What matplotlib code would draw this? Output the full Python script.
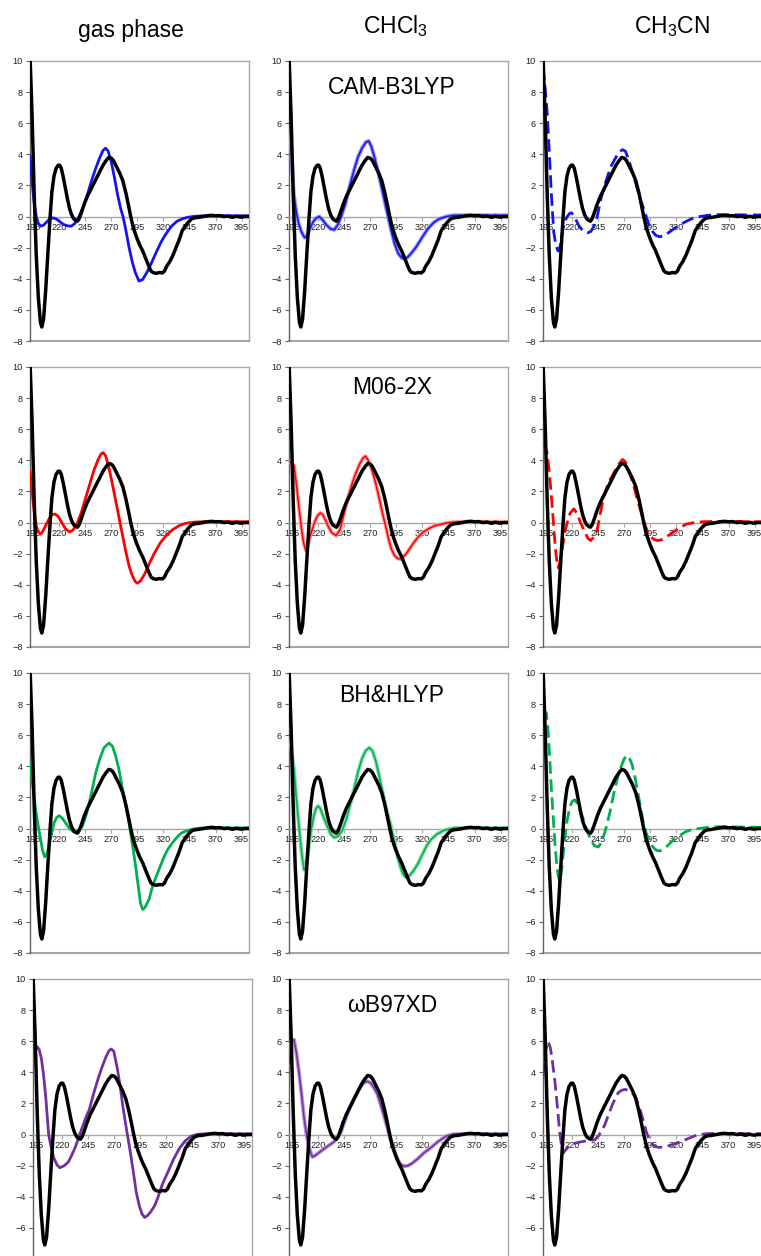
import matplotlib.pyplot as plt
import numpy as np

plt.rcParams['font.family'] = ['Liberation Sans', 'DejaVu Sans']
plt.rcParams['mathtext.fontset'] = 'custom'
plt.rcParams['mathtext.rm'] = 'Liberation Sans'
plt.rcParams['mathtext.default'] = 'rm'

# wavelength (nm), CD signal
experiment = [(192, 10.4), (194, 6.5), (196, 1.5), (198, -2.5), (200, -5.2), (202, -6.8),
              (203.3, -7.1), (205, -6.6), (207, -4.8), (209, -2.5), (211.3, 0), (213, 1.6),
              (215, 2.6), (217, 3.1), (219, 3.3), (220.5, 3.3), (222, 3.1), (224, 2.5),
              (226, 1.8), (228, 1.1), (230, 0.5), (232, 0.1), (234, -0.15), (236, -0.25),
              (237.5, -0.3), (239, -0.15), (241, 0.2), (244, 0.8), (247, 1.3), (250, 1.7),
              (253, 2.1), (256, 2.5), (259, 2.9), (262, 3.3), (265, 3.6), (267.5, 3.8),
              (270, 3.75), (272, 3.6), (275, 3.2), (278, 2.8), (281, 2.3), (284, 1.5),
              (286.5, 0.7), (288.6, 0), (291, -0.7), (294, -1.3), (297, -1.8), (300, -2.2),
              (303, -2.7), (306, -3.2), (308, -3.5), (310, -3.6), (313, -3.65), (316, -3.6),
              (319, -3.62), (321, -3.5), (323, -3.2), (326, -2.9), (329, -2.5), (332, -2.0),
              (335, -1.5), (338, -0.9), (341, -0.6), (344, -0.35), (347, -0.15), (350, -0.08),
              (354, -0.05), (358, 0.0), (362, 0.05), (366, 0.08), (370, 0.05), (374, 0.06),
              (378, 0.0), (382, 0.03), (386, -0.05), (390, 0.02), (394, -0.04), (398, 0.0),
              (402, 0.0)]

cam_gas = [(192, 3.9), (194, 2.2), (196, 0.9), (198, 0.0), (200, -0.45), (202.5, -0.62),
           (205, -0.55), (208, -0.35), (211, -0.15), (214, -0.08), (217, -0.15), (220, -0.3),
           (224, -0.5), (228, -0.6), (231.5, -0.62), (235, -0.45), (239, 0.0), (243, 0.6),
           (247, 1.4), (251, 2.3), (255, 3.1), (259, 3.8), (262, 4.25), (264.5, 4.4),
           (267, 4.2), (270, 3.5), (273, 2.5), (276, 1.4), (279, 0.5), (281.2, 0),
           (284, -0.9), (287, -2.0), (290, -2.9), (293, -3.6), (296.5, -4.15), (300, -4.05),
           (304, -3.6), (308, -3.05), (313, -2.3), (318, -1.6), (323, -1.05), (328, -0.6),
           (333, -0.3), (338, -0.15), (343, -0.05), (350, 0.02), (360, 0.05), (402, 0.05)]
cam_chcl3 = [(192, 7.1), (194, 4.5), (196.5, 1.5), (199, 0.3), (201, -0.4), (204, -1.0),
             (207, -1.35), (209, -1.3), (212, -0.8), (215, -0.35), (218, -0.1), (221, 0.0),
             (224, -0.2), (228, -0.55), (232, -0.8), (235.5, -0.85), (239, -0.5), (242, 0.0),
             (246, 0.8), (250, 1.9), (254, 2.9), (258, 3.8), (262, 4.4), (266, 4.8),
             (268.5, 4.85), (271, 4.5), (274, 3.8), (277, 3.0), (280, 2.1), (283, 1.2),
             (287, 0.0), (290, -0.9), (293.5, -1.8), (297, -2.4), (300, -2.65), (303, -2.72),
             (306, -2.6), (310, -2.3), (314.5, -1.9), (320, -1.3), (325, -0.8), (330.5, -0.4),
             (336, -0.15), (343, 0.0), (350, 0.08), (402, 0.08)]
cam_ch3cn = [(192, 9.6), (194, 8.3), (196, 6.7), (198, 4.2), (200, 1.5), (202.3, -1.0),
             (204.5, -1.9), (206.5, -2.22), (208.5, -1.9), (210.4, -1.05), (213, -0.3),
             (215.2, 0), (217.5, 0.2), (219.4, 0.24), (222, 0.0), (226.5, -0.6), (230, -0.9),
             (234.5, -1.05), (238, -0.95), (241, -0.6), (244, 0.0), (247.4, 1.1), (251, 2.0),
             (254, 2.6), (257, 3.2), (261, 3.7), (265, 4.15), (268.3, 4.3), (271, 4.2),
             (274, 3.7), (278, 2.8), (282, 1.9), (285, 1.2), (287.7, 0.66), (291, 0.0),
             (294, -0.6), (297, -0.95), (300, -1.2), (303.8, -1.3), (307, -1.25), (311, -1.1),
             (316.6, -0.83), (323, -0.55), (329.5, -0.3), (336, -0.1), (342.4, 0.0),
             (350, 0.08), (360, 0.12), (402, 0.1)]

m06_gas = [(192, 3.3), (194, 2.0), (196, 0.7), (198, -0.2), (200, -0.6), (202, -0.75),
           (204, -0.6), (207, -0.2), (210, 0.2), (213, 0.5), (216, 0.55), (219, 0.4),
           (222, 0.05), (226, -0.4), (230, -0.6), (233, -0.5), (237, -0.1), (241, 0.6),
           (245, 1.5), (249, 2.4), (253, 3.3), (257, 4.0), (260, 4.4), (262, 4.5),
           (264.5, 4.3), (267, 3.7), (270, 2.8), (273, 1.8), (276, 0.8), (278.3, 0),
           (281, -0.9), (284, -1.9), (287, -2.8), (290, -3.4), (293, -3.8), (295, -3.9),
           (298, -3.75), (302, -3.3), (306, -2.7), (311, -2.0), (317, -1.3), (323, -0.8),
           (329, -0.45), (335, -0.2), (341, -0.05), (350, 0.03), (360, 0.06), (402, 0.05)]
m06_chcl3 = [(192, 3.9), (194, 3.85), (196.8, 3.67), (199, 2.5), (201.7, 0.88), (204, -0.4),
             (206, -1.3), (208.1, -1.8), (210, -1.5), (212, -0.95), (214.5, -0.4), (217, 0.1),
             (219.5, 0.45), (222, 0.62), (224.5, 0.5), (227, 0.15), (230, -0.3), (233, -0.65),
             (237.1, -0.84), (241, -0.45), (245.1, 0.67), (249, 1.7), (253, 2.6),
             (256.4, 3.24), (260, 3.8), (263, 4.15), (265.4, 4.27), (268, 4.0), (271, 3.5),
             (274.1, 2.8), (277, 2.0), (280, 1.1), (282.2, 0.45), (285, -0.3), (288, -1.2),
             (290.2, -1.7), (293, -2.1), (296, -2.3), (298.3, -2.34), (301, -2.25),
             (305, -1.95), (309.6, -1.48), (315, -1.0), (320, -0.65), (325.7, -0.4),
             (332, -0.2), (338.5, -0.1), (345, 0.0), (355, 0.05), (402, 0.05)]
m06_ch3cn = [(192, 5.17), (194, 4.9), (195.9, 4.5), (198, 3.3), (200, 1.74), (202, 0.0),
             (203.9, -1.7), (205.5, -2.6), (206.5, -2.9), (208, -2.6), (210.4, -1.7),
             (213, -0.6), (215.2, 0), (218, 0.6), (221.6, 0.88), (224.5, 0.6), (228, 0.0),
             (232, -0.6), (235, -1.0), (237.7, -1.16), (241, -0.9), (244.2, -0.4), (247, 0.6),
             (250.6, 1.74), (255, 2.6), (260.3, 3.24), (264, 3.7), (268.3, 4.06), (271, 3.9),
             (274, 3.4), (278, 2.6), (282, 1.6), (286, 0.67), (289, 0.0), (292.4, -0.62),
             (296, -0.95), (299, -1.1), (302, -1.16), (306, -1.1), (311, -0.9),
             (316.6, -0.62), (323, -0.33), (329.5, -0.1), (337, 0.0), (345, 0.05),
             (360, 0.08), (402, 0.05)]

bh_gas = [(192, 4.2), (194.5, 2.8), (197.4, 1.2), (200, 0.1), (202.2, -0.7), (204, -1.4),
          (206.1, -1.82), (208, -1.65), (210.2, -1.13), (212.5, -0.4), (215, 0.36),
          (217.5, 0.7), (219.8, 0.83), (222.5, 0.7), (226.2, 0.36), (230, 0.0),
          (234.2, -0.24), (238, -0.15), (242.2, 0.15), (246, 0.9), (250, 2.0), (255, 3.58),
          (259, 4.5), (263, 5.2), (267.7, 5.5), (271, 5.3), (274, 4.7), (277.3, 3.8),
          (280, 2.8), (283, 1.8), (286.9, 0.36), (290, -0.9), (293, -2.3), (296, -3.8),
          (298, -4.8), (300, -5.2), (302, -5.1), (306.1, -4.56), (310, -3.6),
          (315.7, -2.63), (320, -1.9), (324, -1.35), (328.5, -0.92), (333, -0.55),
          (337, -0.3), (341.3, -0.17), (347, -0.05), (355, 0.03), (402, 0.05)]
bh_chcl3 = [(192, 6.35), (194, 5.3), (196.8, 3.8), (199, 2.0), (201.6, 0.15), (204, -1.5),
            (206.4, -2.65), (208, -2.5), (209.5, -1.9), (211.2, -1.07), (213.5, 0.0),
            (216, 0.88), (218, 1.3), (219.9, 1.44), (222, 1.3), (225.7, 0.63), (229, 0.1),
            (232, -0.35), (235.3, -0.58), (239, -0.5), (243.3, -0.1), (247, 0.6),
            (250.5, 1.5), (254.5, 2.58), (258, 3.6), (262, 4.5), (265.5, 5.0), (269, 5.2),
            (272, 5.0), (275, 4.4), (277.5, 3.7), (280.2, 2.82), (283, 1.95), (286, 1.05),
            (289.8, 0.15), (292.5, -0.7), (296.2, -1.8), (299, -2.5), (301.5, -2.95),
            (304.2, -3.14), (307, -3.05), (311, -2.75), (315.4, -2.29), (320, -1.65),
            (324, -1.1), (328.3, -0.7), (334, -0.35), (341.1, -0.1), (350, 0.03),
            (402, 0.05)]
bh_ch3cn = [(192, 7.2), (193.5, 7.4), (195.2, 7.45), (197, 6.2), (198.5, 4.5), (200, 2.58),
            (202, 0.5), (203.5, -1.0), (204.8, -2.04), (206.5, -3.0), (208.1, -3.45),
            (210, -2.6), (212.2, -1.07), (214.5, 0.3), (217.6, 1.36), (220, 1.75),
            (222.4, 1.85), (225, 1.6), (227.5, 1.15), (230.5, 0.63), (234, -0.1),
            (238.5, -0.83), (241.5, -1.1), (244.9, -1.19), (248, -0.9), (250.5, -0.4),
            (252.9, 0.15), (256, 1.0), (258.5, 1.8), (260.9, 2.58), (264, 3.4), (267, 4.0),
            (270, 4.5), (272.2, 4.7), (275, 4.5), (277.5, 4.1), (280.2, 3.3), (283, 2.3),
            (286, 1.2), (288.2, 0.39), (291, -0.3), (293.5, -0.7), (296.2, -1.07),
            (299, -1.3), (301.5, -1.42), (304.2, -1.44), (308, -1.3), (311.5, -1.1),
            (315.4, -0.83), (321, -0.55), (328.3, -0.22), (335, -0.05), (341, 0.0),
            (350, 0.08), (360, 0.12), (402, 0.08)]

wb_gas = [(192, 5.7), (194, 5.7), (196, 5.65), (198, 5.45), (200, 4.9), (202, 3.9),
          (204, 2.6), (205.5, 1.3), (207, 0.0), (208.5, -0.5), (209.6, -0.87), (212, -1.5),
          (215, -1.95), (217.6, -2.13), (220.5, -2.05), (222, -2.0), (226, -1.75),
          (229, -1.35), (232, -0.9), (234.5, -0.45), (236.7, 0.0), (240, 0.6), (243, 1.15),
          (246, 1.6), (250, 2.6), (254, 3.5), (258, 4.3), (262, 5.0), (265, 5.4), (267, 5.5),
          (269.5, 5.35), (273, 4.2), (276, 2.9), (278.3, 1.74), (281.5, 0.4), (284.7, -0.87),
          (288, -2.3), (291, -3.7), (294, -4.6), (296.5, -5.1), (299, -5.33), (302, -5.2),
          (305, -4.95), (308.7, -4.57), (312, -4.0), (316, -3.2), (321.4, -2.4),
          (327, -1.55), (332.6, -0.87), (338, -0.4), (343.8, -0.1), (350, 0.02),
          (360, 0.05), (402, 0.05)]
wb_chcl3 = [(192, 4.5), (194.2, 6.0), (196.8, 6.1), (199, 5.3), (201.6, 4.0), (204, 2.6),
            (206.4, 1.1), (209, -0.1), (211.2, -0.83), (214.4, -1.44), (217, -1.35),
            (222.5, -1.07), (228, -0.8), (235.3, -0.46), (239, -0.15), (241.7, 0.15),
            (245, 0.8), (250, 1.7), (254.5, 2.34), (259, 2.9), (263, 3.3), (267.3, 3.43),
            (270.5, 3.3), (273.5, 3.0), (276.9, 2.58), (280, 1.9), (283.5, 1.1),
            (286.5, 0.39), (289.5, -0.35), (292.9, -1.07), (296, -1.6), (299, -1.9),
            (302.5, -2.04), (306, -2.0), (310, -1.85), (315.4, -1.56), (321, -1.2),
            (328.3, -0.83), (335, -0.45), (342.7, -0.1), (350, 0.03), (402, 0.05)]
wb_ch3cn = [(192, 3.8), (194.5, 5.4), (196.8, 6.0), (199, 5.6), (201, 4.7), (203.2, 3.55),
            (205.5, 2.0), (208, 0.15), (209.5, -0.6), (211.2, -1.2), (213.5, -1.0),
            (217.6, -0.7), (223, -0.55), (228.9, -0.46), (235, -0.4), (241.7, -0.34),
            (245, -0.1), (248, 0.2), (251.3, 0.63), (255, 1.3), (259, 2.0), (264.2, 2.7),
            (267.5, 2.85), (270.5, 2.9), (274, 2.85), (277, 2.7), (280.2, 2.5), (283, 2.0),
            (286, 1.4), (288.2, 0.88), (291, 0.2), (294.6, -0.46), (298, -0.7),
            (302.6, -0.83), (307, -0.8), (313.8, -0.7), (320, -0.55), (328.3, -0.34),
            (335, -0.15), (341, 0.0), (350, 0.06), (360, 0.08), (402, 0.05)]

methods = ['CAM-B3LYP', 'M06-2X', 'BH&HLYP', '\u03c9B97XD']
solvents = ['gas phase', 'CHCl$_3$', 'CH$_3$CN']
series = [[cam_gas, cam_chcl3, cam_ch3cn],
          [m06_gas, m06_chcl3, m06_ch3cn],
          [bh_gas, bh_chcl3, bh_ch3cn],
          [wb_gas, wb_chcl3, wb_ch3cn]]
colors = ['#1414f0', '#ff0000', '#00b050', '#7030a0']
light = ['#8c8cff', '#ff9a9a', '#86dca8', '#b895d8']
xtick_vals = np.arange(195, 396, 25)
ytick_vals = np.arange(-8, 11, 2)

W, H = 761, 1256
fig = plt.figure(figsize=(W / 100, H / 100), dpi=100)

col_left = [30, 289, 543]
row_top = [61, 367, 673, 979]
ax_w, ax_h = 219, 280
grey = '#a6a6a6'

# column headers
title_x = [131, 395, 672]
title_y = [37, 33, 33]
for c in range(3):
    fig.text(title_x[c] / W, 1 - title_y[c] / H, solvents[c], fontsize=16.5,
             ha='center', va='baseline')

label_y = [27, 21, 23, 26]
for r in range(4):
    for c in range(3):
        left = col_left[c] + (3 if (r == 3 and c == 0) else 0)
        ax = fig.add_axes([left / W, 1 - (row_top[r] + ax_h) / H, ax_w / W, ax_h / H])
        ax.set_xlim(192, 402)
        ax.set_ylim(-8, 10)

        for s in ['top', 'right']:
            ax.spines[s].set_color(grey)
            ax.spines[s].set_linewidth(1.0)
        ax.spines['left'].set_color('#606060')
        ax.spines['left'].set_linewidth(1.0)
        ax.spines['bottom'].set_position(('data', 0))
        ax.spines['bottom'].set_color(grey)
        ax.spines['bottom'].set_linewidth(1.0)
        ax.plot([0, 1], [0, 0], transform=ax.transAxes, color=grey, lw=1.5, clip_on=False)

        ax.set_xticks(xtick_vals)
        ax.set_xticklabels([str(v) for v in xtick_vals])
        ax.set_yticks(ytick_vals)
        ax.tick_params(axis='x', length=3, width=0.8, color=grey, labelsize=6.6,
                       pad=1.5, labelcolor='#222222')
        ax.tick_params(axis='y', length=3, width=0.8, color='#606060', labelsize=6.6,
                       pad=2, labelcolor='#222222')

        data = series[r][c]
        xs = [p[0] for p in data]
        ys = [p[1] for p in data]
        if c == 0:
            ax.plot(xs, ys, color=colors[r], lw=2.0, solid_capstyle='round', zorder=3)
        elif c == 1:
            ax.plot(xs, ys, color=light[r], lw=2.8, zorder=3)
            ax.plot(xs, ys, color=colors[r], lw=1.1, zorder=3)
        else:
            ax.plot(xs, ys, color=colors[r], lw=2.0, dashes=(4.5, 2.0), zorder=3)

        ex = [p[0] for p in experiment]
        ey = [p[1] for p in experiment]
        ax.plot(ex, ey, color='black', lw=2.5, solid_joinstyle='round', zorder=4)

        if c == 1:
            ax.text(0.47, 1 - label_y[r] / ax_h, methods[r], transform=ax.transAxes,
                    fontsize=16.5, ha='center', va='center')

fig.savefig('out.png', dpi=100)
